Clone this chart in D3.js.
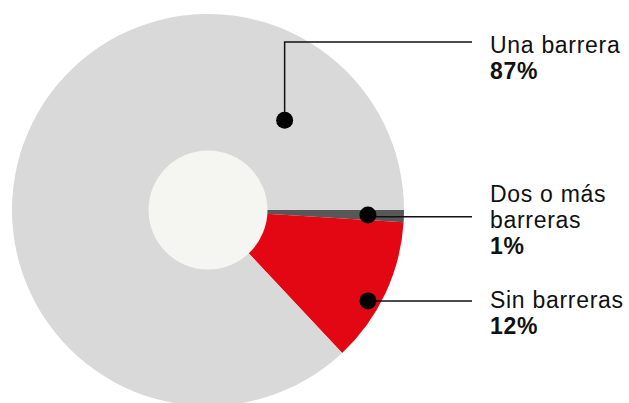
<!DOCTYPE html>
<html>
<head>
<meta charset="utf-8">
<script src="https://cdn.jsdelivr.net/npm/d3@7"></script>
<style>
  html, body { margin: 0; padding: 0; background: #ffffff; }
  svg { display: block; }
  text { font-family: "Liberation Sans", Arial, sans-serif; fill: #111; letter-spacing: 0.7px; }
</style>
</head>
<body>
<svg id="chart" width="629" height="403"></svg>
<script>
// Share of respondents by number of barriers
const categories = ["Dos o más barreras", "Sin barreras", "Una barrera"];
const values = [1, 12, 87];
const labelLines = [["Dos o más", "barreras"], ["Sin barreras"], ["Una barrera"]];
const valueLabels = ["1%", "12%", "87%"];
const colors = ["#575757", "#e30613", "#d9d9d9"];

const width = 629, height = 403;
const cx = 208, cy = 210;
const outerR = 196, holeR = 59.5;

const svg = d3.select("#chart");
const g = svg.append("g").attr("transform", `translate(${cx},${cy})`);

const pie = d3.pie()
  .sort(null)
  .value(d => d)
  .startAngle(Math.PI / 2)
  .endAngle(Math.PI / 2 + 2 * Math.PI);

const arcs = pie(values);
const arc = d3.arc().innerRadius(0).outerRadius(outerR);

g.selectAll("path.slice")
  .data(arcs)
  .join("path")
  .attr("class", "slice")
  .attr("d", arc)
  .attr("fill", (d, i) => colors[i]);

// centre hole
g.append("circle").attr("r", holeR).attr("fill", "#f5f5f1");

// callouts: anchor dot (angle in degrees from 12 o'clock, radius), elbow and label block
const callouts = [
  { angle: null, r: 160, lineY: 216.7, textY: 202 },   // centroid of its slice
  { angle: 119.6, r: 184, lineY: 301, textY: 308 },
  { angle: 40.5, r: 118, lineY: 42, textY: 53 }
];
const lineEndX = 472, textX = 490, lineH = 26;

callouts.forEach((c, i) => {
  const a = c.angle === null ? (arcs[i].startAngle + arcs[i].endAngle) / 2 : c.angle * Math.PI / 180;
  const px = cx + c.r * Math.sin(a);
  const py = cy - c.r * Math.cos(a);

  const path = d3.path();
  path.moveTo(px, py);
  if (Math.abs(py - c.lineY) > 1) path.lineTo(px, c.lineY);
  path.lineTo(lineEndX, c.lineY);
  svg.append("path").attr("d", path.toString())
    .attr("fill", "none").attr("stroke", "#111").attr("stroke-width", 1.5);

  svg.append("circle").attr("cx", px).attr("cy", py).attr("r", 8.5).attr("fill", "#000");

  const t = svg.append("text").attr("x", textX).attr("y", c.textY).attr("font-size", 23);
  labelLines[i].forEach((ln, k) => {
    t.append("tspan").attr("x", textX).attr("dy", k === 0 ? 0 : lineH).text(ln);
  });
  t.append("tspan").attr("x", textX).attr("dy", lineH).attr("font-weight", "bold").text(valueLabels[i]);
});
</script>
</body>
</html>
